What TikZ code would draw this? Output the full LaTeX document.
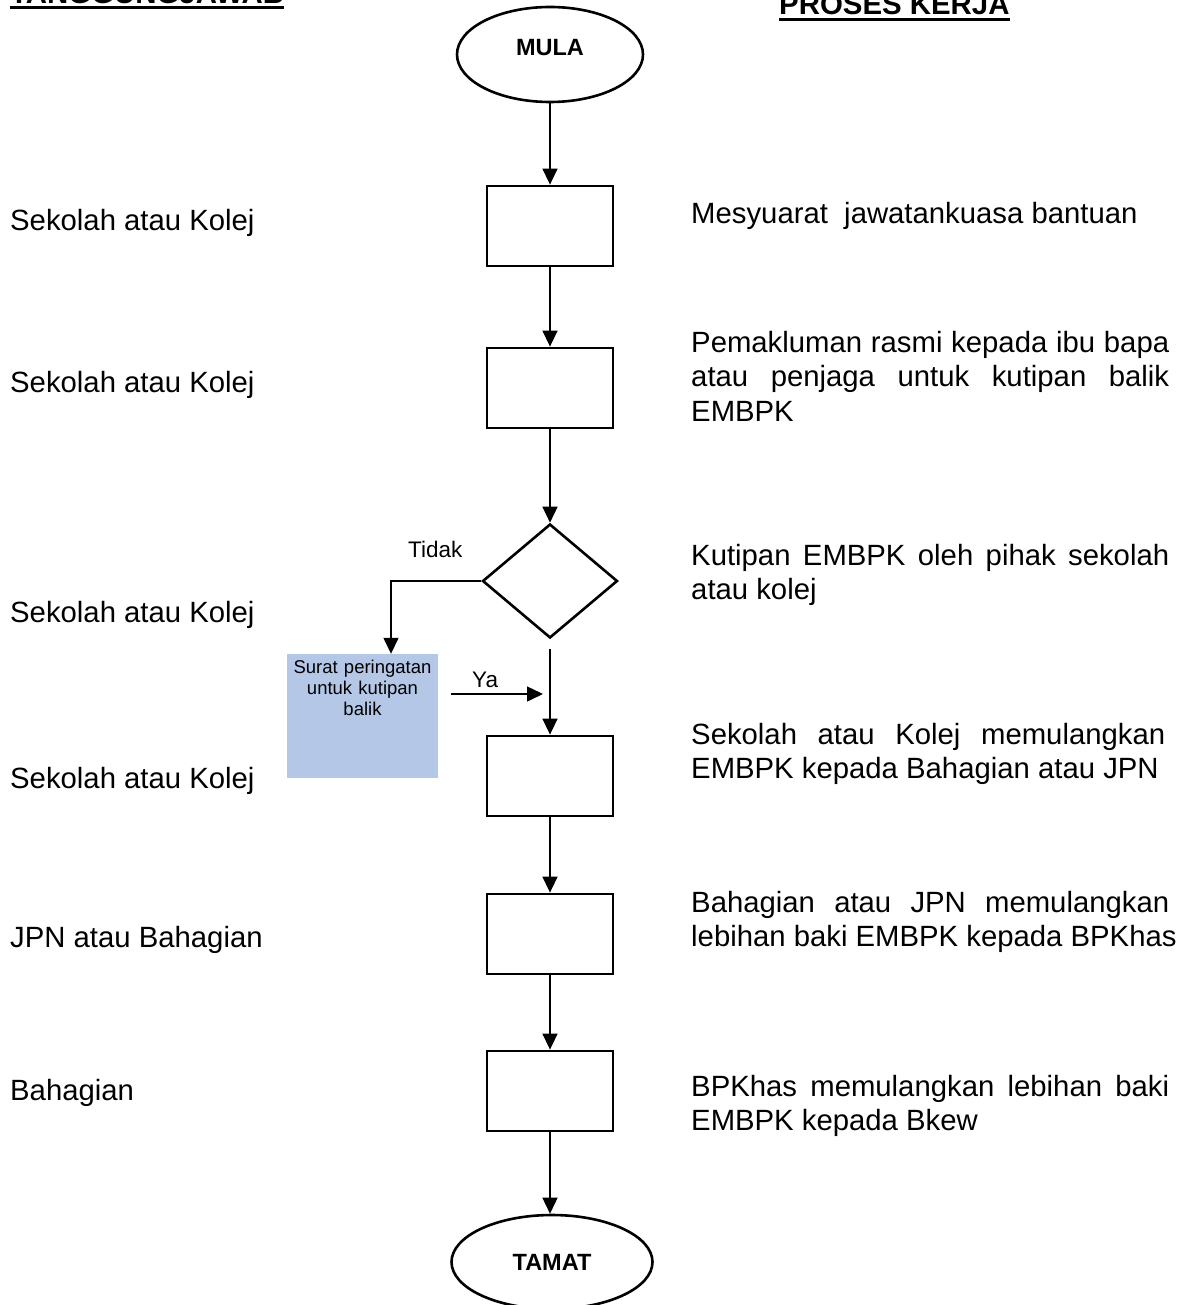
\documentclass[tikz,border=0pt]{standalone}
\usepackage{fontspec}
\setmainfont{Liberation Sans}
\usetikzlibrary{shapes.geometric,arrows.meta}
\definecolor{blueC}{RGB}{180,199,231}
\begin{document}
\begin{tikzpicture}[x=1pt,y=-1pt,
  body/.style={font=\fontsize{29.3}{34.5}\selectfont},
  hdr/.style={font=\fontsize{29.4}{34.5}\selectfont\bfseries,inner sep=0pt,anchor=base west},
  lft/.style={body,inner sep=0pt,anchor=base west},
  rgt/.style={body,inner sep=0pt,anchor=base west,text width=540pt,align=justify},
  proc/.style={draw,line width=2.8pt,rectangle,minimum width=126pt,minimum height=80pt,inner sep=0pt},
  term/.style={draw,line width=2.6pt,ellipse,font=\fontsize{23.5}{28}\selectfont\bfseries,inner sep=0pt},
  decis/.style={draw,line width=2.6pt,diamond,minimum width=135pt,minimum height=114pt,inner sep=0pt},
  arr/.style={line width=1.5pt,-{Triangle[length=16pt,width=15pt]}},
  lbl/.style={font=\fontsize{22.5}{26}\selectfont,inner sep=0pt,anchor=base west}
]
\useasboundingbox (0,0) rectangle (1183,1305);
\fill[white] (0,0) rectangle (1183,1305);
\clip (0,0) rectangle (1183,1305);

% headers
\node[hdr] (h1) at (10,3.5) {TANGGUNGJAWAB};
\draw[line width=3pt] ([yshift=-4.2pt]h1.base west) -- ([yshift=-4.2pt]h1.base east);
\node[hdr] (h2) at (779,15) {PROSES KERJA};
\draw[line width=3pt] ([yshift=-4.2pt]h2.base west) -- ([yshift=-4.2pt]h2.base east);

% flow nodes
\node[term,minimum width=186pt,minimum height=95pt,text height=17pt,text depth=14pt] (mula) at (550,54.5) {MULA};
\node[proc] (b1) at (550,226) {};
\node[proc] (b2) at (550,388) {};
\node[decis] (dia) at (550,581) {};
\node[proc] (b4) at (550,776) {};
\node[proc] (b5) at (550,934) {};
\node[proc] (b6) at (550,1091) {};
\node[term,minimum width=201pt,minimum height=94pt] (tamat) at (552,1262) {TAMAT};

\node[fill=blueC,inner sep=0pt,text width=151pt,align=center,text height=19pt,text depth=105pt,
      font=\fontsize{18.5}{21}\selectfont] (warn) at (362.5,716) {Surat peringatan\\untuk kutipan\\balik};

% connectors
\draw[arr] (mula.south) -- (b1.north);
\draw[arr] (b1.south) -- (b2.north);
\draw[arr] (b2.south) -- (dia.north);
\draw[arr] (dia.west) -| ([xshift=28.5pt]warn.north);
\draw[arr] ([yshift=-10pt]dia.south) -- (b4.north);
\draw[arr] (b4.south) -- (b5.north);
\draw[arr] (b5.south) -- (b6.north);
\draw[arr] (b6.south) -- (b6.south |- tamat.north);
\coordinate (yaS) at (451,694);
\coordinate (yaE) at (543,694);
\draw[arr] (yaS) -- (yaE);

\node[lbl] (tidak) at (408,557) {Tidak};
\node[lbl] (ya) at (472,687) {Ya};

% left column
\node[lft] (l1) at (10,231) {Sekolah atau Kolej};
\node[lft] (l2) at (10,392) {Sekolah atau Kolej};
\node[lft] (l3) at (10,622) {Sekolah atau Kolej};
\node[lft] (l4) at (10,788) {Sekolah atau Kolej};
\node[lft] (l5) at (10,947) {JPN atau Bahagian};
\node[lft] (l6) at (10,1100) {Bahagian};

% right column
\node[rgt] (r1) at (691,224) {Mesyuarat\ \ jawatankuasa bantuan};
\node[rgt] (r2) at (691,352) {\makebox[478pt][s]{Pemakluman rasmi kepada ibu bapa}\\\makebox[478pt][s]{atau penjaga untuk kutipan balik}\\EMBPK};
\node[rgt] (r3) at (691,565) {\makebox[478pt][s]{Kutipan EMBPK oleh pihak sekolah}\\atau kolej};
\node[rgt] (r4) at (691,744) {\makebox[474pt][s]{Sekolah atau Kolej memulangkan}\\EMBPK kepada Bahagian atau JPN};
\node[rgt] (r5) at (691,912) {\makebox[478pt][s]{Bahagian atau JPN memulangkan}\\lebihan baki EMBPK kepada BPKhas};
\node[rgt] (r6) at (691,1096) {\makebox[478pt][s]{BPKhas memulangkan lebihan baki}\\EMBPK kepada Bkew};
\end{tikzpicture}
\end{document}
